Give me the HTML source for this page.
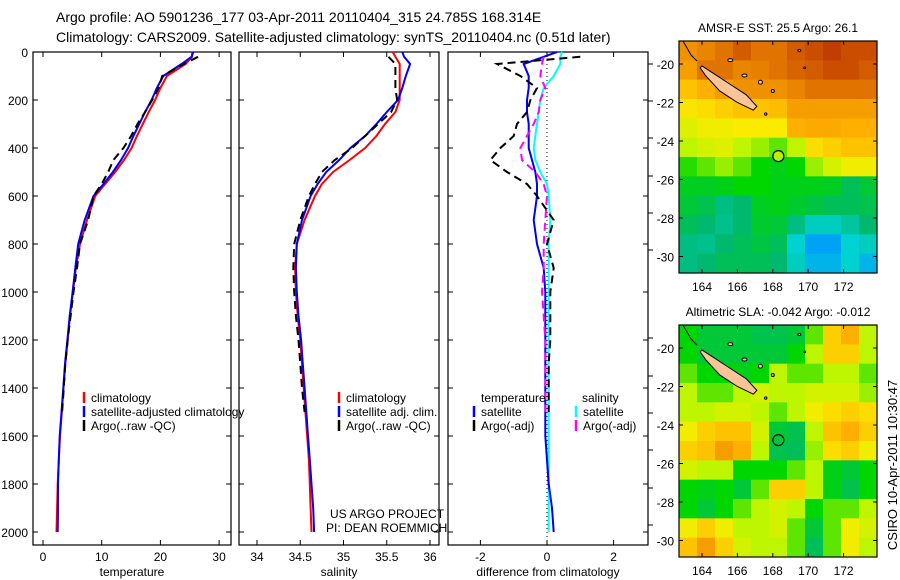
<!DOCTYPE html>
<html><head><meta charset="utf-8">
<style>
body{margin:0;background:#fff;}
svg{display:block;font-family:"Liberation Sans",sans-serif;}
text{fill:#000;}
</style></head>
<body>
<svg id="fig" width="900" height="580" xmlns="http://www.w3.org/2000/svg">
<text x="56" y="22" font-size="14">Argo profile: AO 5901236_177 03-Apr-2011 20110404_315 24.785S 168.314E</text>
<text x="56" y="42" font-size="14">Climatology: CARS2009. Satellite-adjusted climatology: synTS_20110404.nc (0.51d later)</text>
<g id="g1"></g>
<g id="g2"></g>
<g id="g3"></g>
<g id="m1"></g>
<g id="m2"></g>
<text x="330" y="518" font-size="12">US ARGO PROJECT</text>
<text x="326" y="532" font-size="12">PI: DEAN ROEMMICH</text>
<text transform="translate(897,465) rotate(-90)" text-anchor="middle" font-size="13">CSIRO 10-Apr-2011 10:30:47</text>
</svg>
<script>
const depths=[0,20,50,100,150,200,250,300,350,400,450,500,550,600,700,800,900,1000,1100,1200,1300,1400,1500,1600,1700,1800,1900,2000];
const tClim=[25.4,25.4,24.3,21.1,20.0,19.1,18.0,17.0,16.0,15.1,13.8,12.3,10.6,8.9,7.5,6.3,5.6,5.1,4.6,4.2,3.8,3.5,3.2,2.9,2.7,2.5,2.4,2.3];
const tSat=[25.6,25.3,23.6,20.5,19.4,18.5,17.4,16.4,15.4,14.5,13.3,11.9,10.3,8.6,7.1,6.0,5.5,5.05,4.55,4.15,3.75,3.45,3.15,2.85,2.7,2.55,2.55,2.5];
const argoDepths=[20,50,100,150,200,250,300,350,400,450,500,550,600,700,800,900,1000,1100,1200,1300,1400,1500];
const tArgo=[26.4,24.0,20.3,19.7,18.6,17.4,16.1,15.0,13.7,12.0,11.1,10.0,8.6,7.7,6.3,5.8,5.2,4.7,4.2,3.8,3.55,3.25];
const sClim=[35.57,35.6,35.65,35.65,35.65,35.65,35.6,35.48,35.38,35.25,35.07,34.88,34.75,34.67,34.55,34.46,34.44,34.45,34.47,34.5,34.52,34.54,34.56,34.58,34.6,34.61,34.62,34.63];
const sSat=[35.68,35.7,35.77,35.72,35.68,35.63,35.5,35.38,35.25,35.08,34.95,34.8,34.7,34.62,34.52,34.46,34.45,34.46,34.48,34.51,34.53,34.55,34.57,34.59,34.61,34.63,34.65,34.66];
const sArgo=[35.52,35.6,35.6,35.6,35.62,35.55,35.4,35.25,35.1,34.9,34.75,34.67,34.6,34.5,34.43,34.42,34.43,34.45,34.48,34.5,34.52,34.55];
const dTsat=[0.3,-0.1,-0.7,-0.55,-0.55,-0.6,-0.6,-0.55,-0.55,-0.55,-0.45,-0.35,-0.3,-0.3,-0.4,-0.3,-0.1,-0.05,-0.05,-0.05,-0.05,-0.05,-0.05,-0.05,0,0.05,0.15,0.2];
const dSsat=[0.45,0.4,0.4,0.2,-0.1,-0.2,-0.25,-0.3,-0.35,-0.4,-0.35,-0.2,0,0.05,0.1,0.05,0.05,0.05,0.05,0.05,0.05,0.05,0.05,0.05,0.05,0.05,0.05,0.05];
const dTargo=[1.0,-1.5,-0.8,-0.3,-0.5,-0.6,-0.9,-1.0,-1.4,-1.7,-1.2,-0.6,-0.3,0.2,0.0,0.2,0.1,0.1,0.1,0.05,0.05,0.05];
const dSargo=[-0.1,-0.15,-0.2,-0.05,-0.2,-0.25,-0.4,-0.6,-0.8,-0.75,-0.35,-0.1,0,-0.05,-0.1,-0.1,-0.15,-0.1,-0.05,-0.05,-0.05,-0.05];
const depthTicks=[0,200,400,600,800,1000,1200,1400,1600,1800,2000];
const tTicks=[0,10,20,30];
const sTicks=[34,34.5,35,35.5,36];
const dTicks=[-2,0,2];
const lonTicks=[164,166,168,170,172];
const latTicks=[-20,-22,-24,-26,-28,-30];
const sstGrid=[
[0.8,0.82,0.85,0.88,0.85,0.85,0.88,0.9,0.92,0.9,0.9],
[0.78,0.85,0.85,0.82,0.83,0.85,0.87,0.88,0.9,0.9,0.88],
[0.72,0.75,0.78,0.8,0.8,0.8,0.82,0.85,0.85,0.85,0.85],
[0.67,0.68,0.7,0.72,0.72,0.73,0.78,0.78,0.78,0.78,0.78],
[0.63,0.65,0.65,0.66,0.66,0.66,0.75,0.76,0.76,0.75,0.75],
[0.6,0.62,0.63,0.6,0.58,0.55,0.6,0.68,0.7,0.72,0.72],
[0.52,0.55,0.58,0.55,0.5,0.48,0.5,0.58,0.62,0.65,0.65],
[0.47,0.47,0.48,0.5,0.5,0.48,0.48,0.48,0.47,0.42,0.45],
[0.45,0.43,0.38,0.4,0.47,0.48,0.46,0.44,0.42,0.42,0.43],
[0.42,0.4,0.37,0.4,0.46,0.45,0.38,0.32,0.32,0.35,0.4],
[0.38,0.37,0.4,0.42,0.44,0.42,0.3,0.22,0.22,0.3,0.32],
[0.38,0.4,0.42,0.42,0.42,0.4,0.32,0.25,0.25,0.3,0.25]];
const slaGrid=[
[0.5,0.45,0.45,0.45,0.43,0.43,0.45,0.55,0.7,0.75,0.6],
[0.5,0.45,0.45,0.45,0.45,0.45,0.5,0.6,0.7,0.7,0.6],
[0.55,0.5,0.5,0.48,0.5,0.6,0.55,0.55,0.6,0.6,0.55],
[0.6,0.55,0.55,0.6,0.62,0.6,0.6,0.62,0.62,0.62,0.58],
[0.6,0.6,0.62,0.62,0.6,0.55,0.6,0.65,0.68,0.7,0.68],
[0.65,0.7,0.72,0.72,0.62,0.45,0.43,0.6,0.72,0.75,0.7],
[0.7,0.72,0.78,0.75,0.6,0.43,0.42,0.58,0.68,0.7,0.65],
[0.62,0.6,0.6,0.5,0.5,0.5,0.55,0.6,0.48,0.45,0.5],
[0.5,0.48,0.5,0.45,0.55,0.7,0.7,0.6,0.48,0.43,0.5],
[0.5,0.45,0.5,0.55,0.6,0.62,0.6,0.5,0.55,0.55,0.6],
[0.65,0.7,0.65,0.6,0.6,0.62,0.55,0.45,0.55,0.65,0.62],
[0.72,0.78,0.7,0.62,0.6,0.6,0.55,0.42,0.55,0.65,0.6]];
const argoLon=168.314, argoLat=-24.785;

const NS="http://www.w3.org/2000/svg";
function mk(tag,attrs,parent){const e=document.createElementNS(NS,tag);for(const k in attrs)e.setAttribute(k,attrs[k]);parent.appendChild(e);return e;}
const yD=d=>52+d*0.24;
const BOT=545;

function panel(g,x0,x1,xf,ticks,tickLab,xlabel,yLabels){
  const fr=mk('rect',{x:x0,y:52,width:x1-x0,height:BOT-52,fill:'none',stroke:'#000','stroke-width':1.2},g);
  
  
  depthTicks.forEach(d=>{
    mk('line',{x1:x0,x2:x0+5,y1:yD(d),y2:yD(d),stroke:'#000'},g);
    mk('line',{x1:x1-5,x2:x1,y1:yD(d),y2:yD(d),stroke:'#000'},g);
    if(yLabels){const t=mk('text',{x:x0-5,y:yD(d)+5,'text-anchor':'end','font-size':12},g);t.textContent=d;
      
      }
  });
  ticks.forEach((v,i)=>{
    const x=xf(v);
    mk('line',{x1:x,x2:x,y1:BOT,y2:BOT-5,stroke:'#000'},g);
    mk('line',{x1:x,x2:x,y1:52,y2:57,stroke:'#000'},g);
    const t=mk('text',{x:x,y:561,'text-anchor':'middle','font-size':12},g);t.textContent=tickLab[i];
    
    
  });
  const xl=mk('text',{x:(x0+x1)/2,y:576,'text-anchor':'middle','font-size':12},g);xl.textContent=xlabel;
  
  
}
function line(g,ds,vals,xf,color,dash,name){
  const p=ds.map((d,i)=>(i?'L':'M')+xf(vals[i]).toFixed(1)+','+yD(d).toFixed(1)).join('');
  const e=mk('path',{d:p,fill:'none',stroke:color,'stroke-width':2},g);
  if(dash)e.setAttribute('stroke-dasharray',dash);
  
  
}
function legend(g,x,y,items){
  items.forEach((it,i)=>{
    const yy=y+i*14;
    mk('line',{x1:x,x2:x,y1:yy-6,y2:yy+5,stroke:it[1],'stroke-width':2.5},g);
    const t=mk('text',{x:x+7,y:yy+4,'font-size':12},g);t.textContent=it[0];
    
    
  });
}
const g1=document.getElementById('g1');
const xT=v=>43+v*5.87;
panel(g1,33,231,xT,tTicks,tTicks,'temperature',true);
line(g1,depths,tClim,xT,'#f00',null,'temp-climatology-line');
line(g1,depths,tSat,xT,'#00f',null,'temp-satellite-line');
line(g1,argoDepths,tArgo,xT,'#000','8,5','temp-argo-line');
legend(g1,84,398,[['climatology','#f00'],['satellite-adjusted climatology','#00f'],['Argo(..raw -QC)','#000']]);
const g2=document.getElementById('g2');
const xS=v=>257+(v-34)*86.5;
panel(g2,239,439,xS,sTicks,sTicks,'salinity',false);
line(g2,depths,sClim,xS,'#f00',null,'sal-climatology-line');
line(g2,depths,sSat,xS,'#00f',null,'sal-satellite-line');
line(g2,argoDepths,sArgo,xS,'#000','8,5','sal-argo-line');
legend(g2,339,398,[['climatology','#f00'],['satellite adj. clim.','#00f'],['Argo(..raw -QC)','#000']]);
const g3=document.getElementById('g3');
const xDf=v=>547+v*33.3;
panel(g3,448,648,xDf,dTicks,dTicks,'difference from climatology',false);
mk('line',{x1:xDf(0),x2:xDf(0),y1:52,y2:BOT,stroke:'#000','stroke-dasharray':'1,3'},g3);
line(g3,depths,dSsat,xDf,'#0ff',null,'sal-satellite-diff-line');
line(g3,depths,dTsat,xDf,'#00f',null,'temp-satellite-diff-line');
line(g3,argoDepths,dTargo,xDf,'#000','8,5','temp-argo-diff-line');
line(g3,argoDepths,dSargo,xDf,'#f0f','8,5','sal-argo-diff-line');
[64,101,138,176,213,250,338,376,413,450,488,525].forEach(y=>mk('line',{x1:648,x2:653,y1:y,y2:y,stroke:'#000'},g3));
const th=mk('text',{x:481,y:402,'font-size':12},g3);th.textContent='temperature';
const sh=mk('text',{x:582,y:402,'font-size':12},g3);sh.textContent='salinity';
legend(g3,474,412,[['satellite','#00f'],['Argo(-adj)','#000']]);
legend(g3,576,412,[['satellite','#0ff'],['Argo(-adj)','#f0f']]);

function cmap(t){
  const st=[[0.2,[0,150,255]],[0.3,[0,210,210]],[0.4,[0,185,110]],[0.5,[0,215,0]],[0.6,[190,245,0]],[0.66,[250,235,0]],[0.75,[255,175,0]],[0.85,[225,115,0]],[0.95,[180,40,0]]];
  if(t<=st[0][0])return 'rgb('+st[0][1]+')';
  for(let i=1;i<st.length;i++){if(t<=st[i][0]){const a=st[i-1],b=st[i],f=(t-a[0])/(b[0]-a[0]);
    return 'rgb('+a[1].map((c,k)=>Math.round(c+(b[1][k]-c)*f)).join(',')+')';}}
  return 'rgb('+st[st.length-1][1]+')';
}
function map(id,top,grid,title,dotFill){
  const g=document.getElementById(id);
  const x0=679,x1=877,bot=top+232;
  const lonX=l=>702+(l-164)*17.7;
  const latY=l=>top+23+(-20-l)*19.25;
  const cw=(x1-x0)/grid[0].length,ch=(bot-top)/grid.length;
  grid.forEach((row,r)=>row.forEach((v,c)=>{
    const e=mk('rect',{x:x0+c*cw,y:top+r*ch,width:cw+0.5,height:ch+0.5,fill:cmap(v)},g);
    
    
  }));
  const pts=[[164.0,-20.1],[164.5,-20.4],[165.5,-21.0],[166.5,-21.6],[167.1,-22.2],[166.9,-22.4],[166.0,-22.0],[165.0,-21.4],[164.2,-20.6],[163.9,-20.2]];
  const nc=mk('polygon',{points:pts.map(p=>lonX(p[0])+','+latY(p[1])).join(' '),fill:'#f8c498',stroke:'#000','stroke-width':1},g);
  
  
  [[165.6,-19.8,2.5,1.5],[166.4,-20.6,2.5,1.5],[167.3,-20.95,2,2],[168.0,-21.4,1.5,1.5],[167.6,-22.6,1.2,1.2],[169.5,-19.3,1.5,1],[169.8,-20.2,1,0.8]].forEach(i=>{
    mk('ellipse',{cx:lonX(i[0]),cy:latY(i[1]),rx:i[2],ry:i[3],fill:'#f8c498',stroke:'#000'},g);
  });
  mk('path',{d:`M${x0+4},${top}L${x0+12},${top+14}L${x0+18},${top+20}`,fill:'none',stroke:'#000'},g);
  const dot=mk('circle',{cx:lonX(argoLon),cy:latY(argoLat),r:5.5,fill:dotFill,stroke:'#000','stroke-width':1.2},g);
  
  
  mk('rect',{x:x0,y:top,width:x1-x0,height:bot-top,fill:'none',stroke:'#000','stroke-width':1.2},g);
  lonTicks.forEach(l=>{const x=lonX(l);
    mk('line',{x1:x,x2:x,y1:bot,y2:bot-4,stroke:'#000'},g);
    mk('line',{x1:x,x2:x,y1:top,y2:top+4,stroke:'#000'},g);
    const t=mk('text',{x:x,y:bot+18,'text-anchor':'middle','font-size':12},g);t.textContent=l;
    
    });
  latTicks.forEach(l=>{const y=latY(l);
    mk('line',{x1:x0,x2:x0+4,y1:y,y2:y,stroke:'#000'},g);
    mk('line',{x1:x1,x2:x1-4,y1:y,y2:y,stroke:'#000'},g);
    const t=mk('text',{x:x0-5,y:y+5,'text-anchor':'end','font-size':12},g);t.textContent=l;
    
    });
  const tt=mk('text',{x:(x0+x1)/2,y:top-9,'text-anchor':'middle','font-size':12},g);tt.textContent=title;
  
  
}
map('m1',41,sstGrid,'AMSR-E SST: 25.5 Argo: 26.1','#b8f000');
map('m2',325,slaGrid,'Altimetric SLA: -0.042 Argo: -0.012','none');
</script>
</body></html>
